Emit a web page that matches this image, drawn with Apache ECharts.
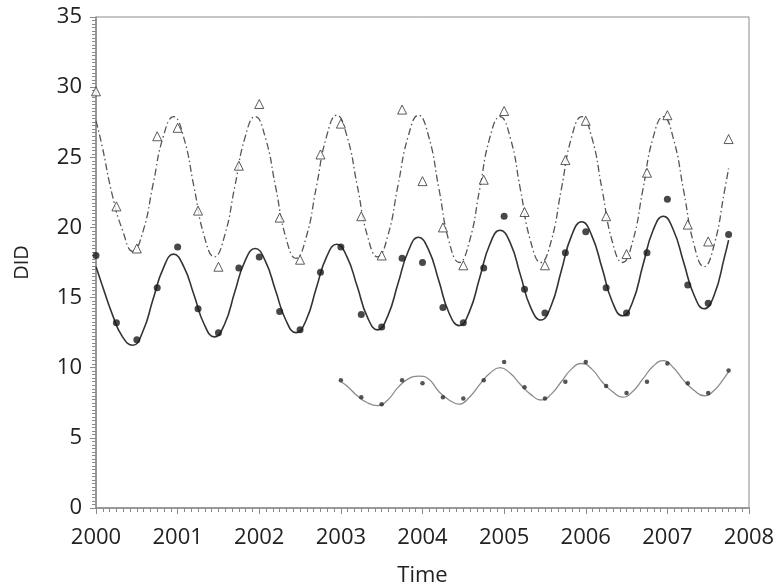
<!DOCTYPE html>
<html>
<head>
<meta charset="utf-8">
<script src="https://cdn.jsdelivr.net/npm/echarts@6/dist/echarts.min.js"></script>
<style>
    html, body { margin: 0; padding: 0; background: #fff; }
    #chart { width: 778px; height: 588px; }
</style>
</head>
<body>
<div id="chart"></div>
<script>
// Квартальные моменты наблюдений
const quarters = [
    2000, 2000.25, 2000.5, 2000.75, 2001, 2001.25, 2001.5, 2001.75,
    2002, 2002.25, 2002.5, 2002.75, 2003, 2003.25, 2003.5, 2003.75,
    2004, 2004.25, 2004.5, 2004.75, 2005, 2005.25, 2005.5, 2005.75,
    2006, 2006.25, 2006.5, 2006.75, 2007, 2007.25, 2007.5, 2007.75
];
const quartersLate = quarters.slice(12);

// Наблюдения (треугольники, точки, мелкие точки)
const triangleObs = [
    29.7, 21.5, 18.5, 26.5, 27.1, 21.2, 17.2, 24.4,
    28.8, 20.7, 17.7, 25.2, 27.4, 20.8, 18.0, 28.4,
    23.3, 20.0, 17.3, 23.4, 28.3, 21.1, 17.3, 24.8,
    27.6, 20.8, 18.1, 23.9, 28.0, 20.2, 19.0, 26.3
];
const circleObs = [
    18.0, 13.2, 12.0, 15.7, 18.6, 14.2, 12.5, 17.1,
    17.9, 14.0, 12.7, 16.8, 18.6, 13.8, 12.9, 17.8,
    17.5, 14.3, 13.2, 17.1, 20.8, 15.6, 13.9, 18.2,
    19.7, 15.7, 13.9, 18.2, 22.0, 15.9, 14.6, 19.5
];
const dotObs = [
    9.1, 7.9, 7.4, 9.1, 8.9, 7.9, 7.8, 9.1,
    10.4, 8.6, 7.8, 9.0, 10.4, 8.7, 8.2, 9.0,
    10.3, 8.9, 8.2, 9.8
];

// Моменты, в которых считаны подогнанные кривые
const fitTimes = [
    2000,
    2000.075, 2000.2, 2000.325, 2000.45, 2000.575, 2000.7, 2000.825, 2000.95,
    2001.075, 2001.2, 2001.325, 2001.45, 2001.575, 2001.7, 2001.825, 2001.95,
    2002.075, 2002.2, 2002.325, 2002.45, 2002.575, 2002.7, 2002.825, 2002.95,
    2003.075, 2003.2, 2003.325, 2003.45, 2003.575, 2003.7, 2003.825, 2003.95,
    2004.075, 2004.2, 2004.325, 2004.45, 2004.575, 2004.7, 2004.825, 2004.95,
    2005.075, 2005.2, 2005.325, 2005.45, 2005.575, 2005.7, 2005.825, 2005.95,
    2006.075, 2006.2, 2006.325, 2006.45, 2006.575, 2006.7, 2006.825, 2006.95,
    2007.075, 2007.2, 2007.325, 2007.45, 2007.575, 2007.7, 2007.75
];
const fitTimesLate = [2003].concat(fitTimes.slice(25));

// Подогнанные кривые
const triangleFit = [
    27.6,
    25.8, 22.3, 19.8, 18.3, 19.7, 23.1, 26.5, 27.9,
    26.4, 22.9, 19.4, 17.9, 19.4, 22.9, 26.4, 27.9,
    26.4, 22.9, 19.3, 17.8, 19.3, 22.9, 26.5, 28.0,
    26.5, 23.0, 19.4, 17.9, 19.4, 23.0, 26.5, 28.0,
    26.5, 22.8, 19.0, 17.5, 19.0, 22.7, 26.4, 27.9,
    26.4, 22.7, 19.0, 17.5, 19.0, 22.7, 26.4, 27.9,
    26.4, 22.7, 19.0, 17.5, 19.0, 22.7, 26.4, 27.9,
    26.3, 22.6, 18.8, 17.2, 18.8, 22.6, 24.2
];
const circleFit = [
    17.2,
    15.9, 13.8, 12.2, 11.6, 12.6, 14.9, 17.1, 18.1,
    17.2, 15.2, 13.1, 12.2, 13.1, 15.4, 17.6, 18.5,
    17.6, 15.5, 13.4, 12.5, 13.4, 15.7, 17.9, 18.8,
    17.9, 15.8, 13.6, 12.7, 13.7, 16.0, 18.3, 19.3,
    18.4, 16.2, 13.9, 13.0, 14.0, 16.4, 18.8, 19.8,
    18.9, 16.6, 14.3, 13.4, 14.4, 16.9, 19.4, 20.4,
    19.4, 17.1, 14.7, 13.7, 14.7, 17.3, 19.8, 20.8,
    19.8, 17.5, 15.2, 14.2, 15.2, 17.9, 19.1
];
const dotFit = [
    9.0,
    8.7, 8.0, 7.5, 7.3, 7.7, 8.6, 9.2, 9.4,
    9.2, 8.3, 7.7, 7.4, 7.9, 8.8, 9.6, 10.0,
    9.6, 8.8, 8.1, 7.7, 8.1, 9.0, 9.9, 10.3,
    9.9, 9.0, 8.3, 7.9, 8.3, 9.2, 10.1, 10.5,
    10.0, 9.1, 8.4, 8.0, 8.4, 9.3, 9.7
];

const yTicks = [0, 5, 10, 15, 20, 25, 30, 35];
const xTicks = [2000, 2001, 2002, 2003, 2004, 2005, 2006, 2007, 2008];

const FONT = '"Open Sans", "DejaVu Sans", sans-serif';
const AXIS_GRAY = '#8a8a8a';

// Склейка x и y в пары
function pairs(xs, ys) {
    return ys.map((v, i) => [xs[i], v]);
}

function initChart() {
    const chart = echarts.init(document.getElementById('chart'), null, { renderer: 'canvas' });

    const option = {
        animation: false,
        backgroundColor: '#fff',
        grid: {
            left: 96,
            right: 29,
            top: 17,
            bottom: 80,
            outerBoundsMode: 'none',
            show: true,
            borderColor: AXIS_GRAY,
            borderWidth: 1,
            backgroundColor: 'transparent'
        },
        xAxis: {
            type: 'value',
            min: xTicks[0],
            max: xTicks[xTicks.length - 1],
            interval: 1,
            name: 'Time',
            nameLocation: 'middle',
            nameGap: 57,
            nameTextStyle: { fontFamily: FONT, fontSize: 22, color: '#222' },
            axisLine: { show: true, lineStyle: { color: AXIS_GRAY, width: 1.5 } },
            axisTick: { show: true, inside: false, length: 6, lineStyle: { color: AXIS_GRAY } },
            minorTick: { show: true, splitNumber: 12, length: 4, lineStyle: { color: AXIS_GRAY } },
            splitLine: { show: false },
            axisLabel: {
                fontFamily: FONT, fontSize: 22, color: '#222', margin: 19,
                formatter: v => String(v)
            }
        },
        yAxis: {
            type: 'value',
            min: yTicks[0],
            max: yTicks[yTicks.length - 1],
            interval: 5,
            name: 'DID',
            nameLocation: 'middle',
            nameGap: 64,
            nameTextStyle: { fontFamily: FONT, fontSize: 20, color: '#222' },
            axisLine: { show: true, lineStyle: { color: AXIS_GRAY, width: 1.5 } },
            axisTick: { show: true, inside: false, length: 6, lineStyle: { color: AXIS_GRAY } },
            minorTick: { show: true, splitNumber: 20, length: 4, lineStyle: { color: AXIS_GRAY } },
            splitLine: { show: false },
            axisLabel: { fontFamily: FONT, fontSize: 22, color: '#222', margin: 14 }
        },
        series: [
            {
                name: 'triangle fit',
                type: 'line',
                data: pairs(fitTimes, triangleFit),
                smooth: 0.5,
                showSymbol: false,
                lineStyle: { color: '#555', width: 1.3, type: [7, 3, 1.5, 3] },
                z: 2
            },
            {
                name: 'circle fit',
                type: 'line',
                data: pairs(fitTimes, circleFit),
                smooth: 0.5,
                showSymbol: false,
                lineStyle: { color: '#333', width: 1.6 },
                z: 2
            },
            {
                name: 'dot fit',
                type: 'line',
                data: pairs(fitTimesLate, dotFit),
                smooth: 0.5,
                showSymbol: false,
                lineStyle: { color: '#8c8c8c', width: 1.3 },
                z: 2
            },
            {
                name: 'triangles',
                type: 'scatter',
                data: pairs(quarters, triangleObs),
                symbol: 'triangle',
                symbolSize: 9,
                itemStyle: { color: '#fff', borderColor: '#333', borderWidth: 1 },
                z: 3
            },
            {
                name: 'circles',
                type: 'scatter',
                data: pairs(quarters, circleObs),
                symbol: 'circle',
                symbolSize: 7,
                itemStyle: { color: '#1a1a1a' },
                z: 3
            },
            {
                name: 'dots',
                type: 'scatter',
                data: pairs(quartersLate, dotObs),
                symbol: 'circle',
                symbolSize: 4.5,
                itemStyle: { color: '#2a2a2a' },
                z: 3
            }
        ]
    };

    chart.setOption(option);
}

document.addEventListener('DOMContentLoaded', initChart);
</script>
</body>
</html>
